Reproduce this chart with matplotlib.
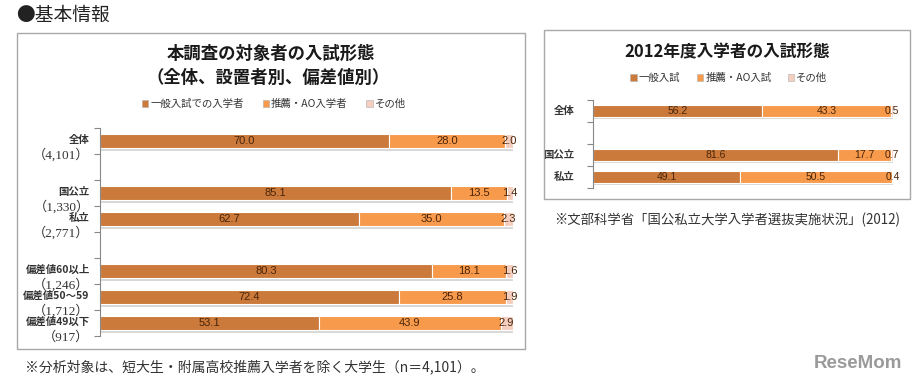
import matplotlib
matplotlib.use("Agg")
import matplotlib.pyplot as plt
from matplotlib.patches import Rectangle, Patch
from matplotlib.transforms import blended_transform_factory

plt.rcParams['font.family'] = ['Noto Sans CJK JP', 'DejaVu Sans']

# 左のグラフ: 本調査の対象者
left_cats = ['全体', '国公立', '私立', '偏差値60以上', '偏差値50～59', '偏差値49以下']
left_counts = ['（4,101）', '（1,330）', '（2,771）', '（1,246）', '（1,712）', '（917）']
left_general = [70.0, 85.1, 62.7, 80.3, 72.4, 53.1]
left_rec = [28.0, 13.5, 35.0, 18.1, 25.8, 43.9]
left_other = [2.0, 1.4, 2.3, 1.6, 1.9, 2.9]
left_legend = ['一般入試での入学者', '推薦・AO入学者', 'その他']

# 右のグラフ: 2012年度入学者
right_cats = ['全体', '国公立', '私立']
right_general = [56.2, 81.6, 49.1]
right_rec = [43.3, 17.7, 50.5]
right_other = [0.5, 0.7, 0.4]
right_legend = ['一般入試', '推薦・AO入試', 'その他']

W, H = 920, 389
c_gen = '#cc7a3b'
c_rec = '#f79a4c'
c_oth = '#f4cfc0'
c_txt = '#4a2408'


def fx(x):
    return x / W


def fy(y):
    return 1 - y / H


def box(fig, x0, y0, x1, y1):
    fig.add_artist(Rectangle((fx(x0), fy(y1)), fx(x1 - x0), (y1 - y0) / H,
                             transform=fig.transFigure, fill=False,
                             edgecolor='#a8a8a8', linewidth=1.0))


def stacked(ax, slots, nslots, gen, rec, oth, height, fs):
    ax.set_xlim(0, 100)
    ax.set_ylim(nslots, 0)
    ys = [s + 0.5 for s in slots]
    tot = [g + r + o for g, r, o in zip(gen, rec, oth)]
    # 影
    ax.barh([y + 0.1 for y in ys], tot, height=height, color='#d8d8d8', zorder=1)
    lefts = [0] * len(ys)
    for vals, col in [(gen, c_gen), (rec, c_rec), (oth, c_oth)]:
        ax.barh(ys, vals, left=lefts, height=height, color=col,
                edgecolor='white', linewidth=0.8, zorder=2)
        for y, l, v in zip(ys, lefts, vals):
            ax.text(l + v / 2, y, f'{v:.1f}', ha='center', va='center',
                    fontsize=fs, color=c_txt, family=['Liberation Sans', 'DejaVu Sans'],
                    zorder=3)
        lefts = [l + v for l, v in zip(lefts, vals)]
    for s in ['top', 'right', 'bottom']:
        ax.spines[s].set_visible(False)
    ax.spines['left'].set_color('#888888')
    ax.spines['left'].set_linewidth(0.8)
    ax.set_yticks(range(nslots + 1))
    ax.set_yticklabels([])
    ax.tick_params(axis='y', length=4, width=0.8, color='#888888')
    ax.set_xticks([])
    ax.patch.set_alpha(0)
    return ys


fig = plt.figure(figsize=(W / 100, H / 100), dpi=100)

fig.text(fx(16), fy(15), '●基本情報', fontsize=13.5, color='#222222', va='center', ha='left')

# ---- 左 ----
box(fig, 17, 33, 525, 349)
fig.text(fx(271), fy(54), '本調査の対象者の入試形態', fontsize=12.5, fontweight='bold',
         ha='center', va='center', color='#1a1a1a')
fig.text(fx(268), fy(78), '（全体、設置者別、偏差値別）', fontsize=12.5, fontweight='bold',
         ha='center', va='center', color='#1a1a1a')

axL = fig.add_axes([fx(100), fy(336), fx(413), 208 / H])
ysL = stacked(axL, [0, 2, 3, 5, 6, 7], 8, left_general, left_rec, left_other, 0.55, 8)
tr = blended_transform_factory(axL.transAxes, axL.transData)
for y, name, cnt in zip(ysL, left_cats, left_counts):
    axL.text(-0.025, y - 0.05, name, transform=tr, ha='right', va='center',
             fontsize=7.5, fontweight='bold', color='#333333')
    axL.text(-0.025, y + 0.55, cnt, transform=tr, ha='right', va='center',
             fontsize=9.5, color='#333333', family=['Liberation Serif', 'Noto Sans CJK JP'])

hL = [Patch(facecolor=c, edgecolor='#b0b0b0', linewidth=0.4) for c in (c_gen, c_rec, c_oth)]
fig.legend(hL, left_legend, loc='center', bbox_to_anchor=(fx(274), fy(104)), ncol=3,
           frameon=False, fontsize=7.5, handlelength=0.6, handleheight=0.6,
           handletextpad=0.2, columnspacing=1.8, labelcolor='#333333')

fig.text(fx(25), fy(367), '※分析対象は、短大生・附属高校推薦入学者を除く大学生（n＝4,101）。',
         fontsize=10, ha='left', va='center', color='#333333')

# ---- 右 ----
box(fig, 544, 30, 910, 199)
fig.text(fx(727), fy(52), '2012年度入学者の入試形態', fontsize=12, fontweight='bold',
         ha='center', va='center', color='#1a1a1a')

axR = fig.add_axes([fx(593), fy(188), fx(300), 88 / H])
ysR = stacked(axR, [0, 2, 3], 4, right_general, right_rec, right_other, 0.55, 7.5)
trR = blended_transform_factory(axR.transAxes, axR.transData)
for y, name in zip(ysR, right_cats):
    axR.text(-0.063, y, name, transform=trR, ha='right', va='center',
             fontsize=7.5, fontweight='bold', color='#333333')

hR = [Patch(facecolor=c, edgecolor='#b0b0b0', linewidth=0.4) for c in (c_gen, c_rec, c_oth)]
fig.legend(hR, right_legend, loc='center', bbox_to_anchor=(fx(729), fy(78)), ncol=3,
           frameon=False, fontsize=7.5, handlelength=0.6, handleheight=0.6,
           handletextpad=0.2, columnspacing=1.6, labelcolor='#333333')

fig.text(fx(554), fy(220), '※文部科学省「国公私立大学入学者選抜実施状況」(2012)',
         fontsize=9.6, ha='left', va='center', color='#333333')

fig.text(fx(858), fy(363), 'ReseMom', fontsize=13.5, fontweight='bold', color='#9a9a9a',
         ha='center', va='center', family=['Liberation Sans', 'DejaVu Sans'])

fig.savefig('out.png', dpi=100)
